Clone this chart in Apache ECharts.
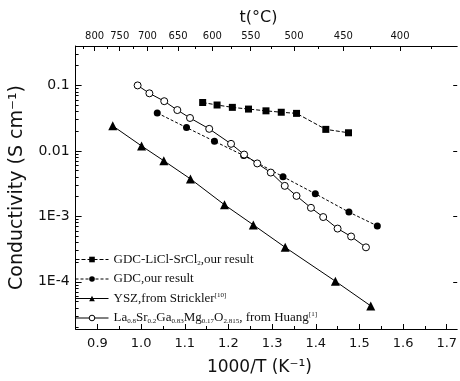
<!DOCTYPE html>
<html>
<head>
<meta charset="utf-8">
<script src="https://cdn.jsdelivr.net/npm/echarts@6/dist/echarts.min.js"></script>
<style>
  html, body { margin: 0; padding: 0; background: #fff; }
  #echart { width: 460px; height: 381px; }
</style>
</head>
<body>
<div id="echart"></div>
<script>
// data (x = 1000/T, y = conductivity S/cm)
var gdcLiX = [1.141, 1.174, 1.209, 1.246, 1.286, 1.321, 1.356, 1.423, 1.475];
var gdcLiY = [0.0548, 0.0502, 0.0462, 0.0435, 0.0409, 0.0389, 0.0374, 0.0213, 0.0189];

var gdcX = [1.037, 1.104, 1.168, 1.235, 1.325, 1.399, 1.476, 1.541];
var gdcY = [0.0379, 0.0227, 0.0140, 0.00849, 0.00403, 0.00221, 0.00116, 0.000714];

var yszX = [0.935, 1.001, 1.052, 1.113, 1.191, 1.257, 1.330, 1.445, 1.526];
var yszY = [0.0241, 0.0119, 0.00706, 0.00373, 0.00150, 0.00074, 0.000336, 0.000102, 0.0000428];

var lsgmX = [0.992, 1.019, 1.053, 1.083, 1.112, 1.156, 1.206, 1.236, 1.266, 1.297, 1.329, 1.356, 1.389, 1.417, 1.450, 1.481, 1.515];
var lsgmY = [0.1, 0.0757, 0.0574, 0.0420, 0.0318, 0.0217, 0.0128, 0.00879, 0.00643, 0.00466, 0.00292, 0.00205, 0.00135, 0.000975, 0.00065, 0.000492, 0.000336];

// tick labels
var xTicks = [0.9, 1.0, 1.1, 1.2, 1.3, 1.4, 1.5, 1.6, 1.7];
var xMinor = [0.95, 1.05, 1.15, 1.25, 1.35, 1.45, 1.55, 1.65];
var tTicks = [800, 750, 700, 650, 600, 550, 500, 450, 400];
var tMinor = [825, 775, 725, 675, 625, 575, 525, 475, 425, 375];
var yTicks = [1e-4, 1e-3, 1e-2, 1e-1];
var yLabels = ['1E-4', '1E-3', '0.01', '0.1'];

function pairs(xs, ys) {
    var out = [];
    for (var i = 0; i < xs.length; i++) out.push([xs[i], ys[i]]);
    return out;
}
function invT(t) { return 1000 / (t + 273.15); }

var yMinor = [];
for (var e = -5; e <= -1; e++) {
    for (var k = 2; k <= 9; k++) {
        var v = k * Math.pow(10, e);
        if (v > 1.9e-5 && v < 0.4) yMinor.push(v);
    }
}

var myChart = echarts.init(document.getElementById('echart'));
var sans = 'DejaVu Sans';
var axisLine = {show: true, lineStyle: {color: '#000', width: 1}};

var option = {
    animation: false,
    backgroundColor: '#fff',
    grid: {left: 73, right: 0, top: 46, bottom: 48},
    legend: {
        orient: 'vertical',
        left: 75,
        top: 253,
        padding: 0,
        itemWidth: 33,
        itemHeight: 7,
        itemGap: 6,
        lineStyle: {width: 1},
        textStyle: {
            fontFamily: 'Liberation Serif', fontSize: 13, color: '#111',
            rich: {
                n: {fontFamily: 'Liberation Serif', fontSize: 13, color: '#111', lineHeight: 14},
                s: {fontFamily: 'Liberation Serif', fontSize: 7, color: '#111', verticalAlign: 'bottom', lineHeight: 14, padding: [6, 0, 0, 0]},
                p: {fontFamily: 'Liberation Serif', fontSize: 7, color: '#111', verticalAlign: 'top', lineHeight: 14, padding: [0, 0, 6, 0]}
            }
        },
        formatter: function (name) {
            if (name === 'a') return '{n|GDC-LiCl-SrCl}{s|2}{n|,our result}';
            if (name === 'b') return '{n|GDC,our result}';
            if (name === 'c') return '{n|YSZ,from Strickler}{p|[10]}';
            return '{n|La}{s|0.8}{n|Sr}{s|0.2}{n|Ga}{s|0.83}{n|Mg}{s|0.17}{n|O}{s|2.815}{n|, from Huang}{p|[1]}';
        },
        data: ['a', 'b', 'c', {name: 'd', itemStyle: {color: '#fff', borderColor: '#000', borderWidth: 1}}]
    },
    xAxis: [{
        type: 'value', position: 'bottom', min: 0.85, max: 1.724,
        name: '1000/T (K⁻¹)', nameLocation: 'middle', nameGap: 30,
        nameTextStyle: {fontFamily: sans, fontSize: 17, color: '#111', padding: [0, 14, 0, 0]},
        axisLine: axisLine,
        axisTick: {show: true, inside: true, length: 5, customValues: xTicks, lineStyle: {color: '#000'}},
        axisLabel: {customValues: xTicks, margin: 8, fontFamily: sans, fontSize: 13, color: '#111',
            formatter: function (v) { return v.toFixed(1); }},
        splitLine: {show: false}
    }, {
        type: 'value', position: 'top', min: 0.8974, max: 1.5892,
        name: 't(°C)', nameLocation: 'middle', nameGap: 20,
        nameTextStyle: {fontFamily: sans, fontSize: 16, color: '#111', padding: [0, 16, 0, 0]},
        axisLine: axisLine,
        axisTick: {show: true, inside: true, length: 5, customValues: tTicks.map(invT), lineStyle: {color: '#000'}},
        axisLabel: {customValues: tTicks.map(invT), margin: 5, fontFamily: sans, fontSize: 10, color: '#111',
            formatter: function (v) { return String(Math.round(1000 / v - 273.15)); }},
        splitLine: {show: false}
    }, {
        type: 'value', position: 'bottom', offset: 0, min: 0.85, max: 1.724,
        axisLine: {show: false},
        axisTick: {show: true, inside: true, length: 3, customValues: xMinor, lineStyle: {color: '#000'}},
        axisLabel: {show: false},
        splitLine: {show: false}
    }, {
        type: 'value', position: 'top', offset: 0, min: 0.8974, max: 1.5892,
        axisLine: {show: false},
        axisTick: {show: true, inside: true, length: 3, customValues: tMinor.map(invT), lineStyle: {color: '#000'}},
        axisLabel: {show: false},
        splitLine: {show: false}
    }],
    yAxis: [{
        type: 'log', logBase: 10, position: 'left', min: 1.9e-5, max: 0.4,
        name: 'Conductivity (S cm⁻¹)', nameLocation: 'middle', nameGap: 48,
        nameTextStyle: {fontFamily: sans, fontSize: 19, color: '#111'},
        axisLine: axisLine,
        axisTick: {show: true, inside: true, length: 6, customValues: yTicks, lineStyle: {color: '#000'}},
        axisLabel: {customValues: yTicks, margin: 6, fontFamily: sans, fontSize: 14, color: '#111',
            formatter: function (v) {
                var i = Math.round(Math.log10(v)) + 4;
                return yLabels[i];
            }},
        splitLine: {show: false}
    }, {
        type: 'log', logBase: 10, position: 'left', offset: 0, min: 1.9e-5, max: 0.4,
        axisLine: {show: false},
        axisTick: {show: true, inside: true, length: 3, customValues: yMinor, lineStyle: {color: '#000'}},
        axisLabel: {show: false},
        splitLine: {show: false}
    }, {
        type: 'log', logBase: 10, position: 'right', min: 1.9e-5, max: 0.4,
        axisLine: {show: false},
        axisTick: {show: true, inside: true, length: 4, customValues: yTicks, lineStyle: {color: '#000'}},
        axisLabel: {show: false},
        splitLine: {show: false}
    }],
    series: [{
        name: 'a', type: 'line', xAxisIndex: 0, yAxisIndex: 0,
        symbol: 'rect', symbolSize: 7, showAllSymbol: true,
        itemStyle: {color: '#000'},
        lineStyle: {color: '#000', width: 1, type: [4, 2]},
        data: pairs(gdcLiX, gdcLiY)
    }, {
        name: 'b', type: 'line', xAxisIndex: 0, yAxisIndex: 0,
        symbol: 'circle', symbolSize: 7, showAllSymbol: true,
        itemStyle: {color: '#000'},
        lineStyle: {color: '#000', width: 1, type: [3, 2]},
        data: pairs(gdcX, gdcY)
    }, {
        name: 'c', type: 'line', xAxisIndex: 0, yAxisIndex: 0,
        symbol: 'triangle', symbolSize: 9, showAllSymbol: true,
        itemStyle: {color: '#000'},
        lineStyle: {color: '#000', width: 1},
        data: pairs(yszX, yszY)
    }, {
        name: 'd', type: 'line', xAxisIndex: 0, yAxisIndex: 0,
        symbol: 'circle', symbolSize: 7, showAllSymbol: true,
        itemStyle: {color: '#fff', borderColor: '#000', borderWidth: 1},
        lineStyle: {color: '#000', width: 1},
        data: pairs(lsgmX, lsgmY)
    }]
};

myChart.setOption(option);
window.onresize = myChart.resize;
</script>
</body>
</html>
